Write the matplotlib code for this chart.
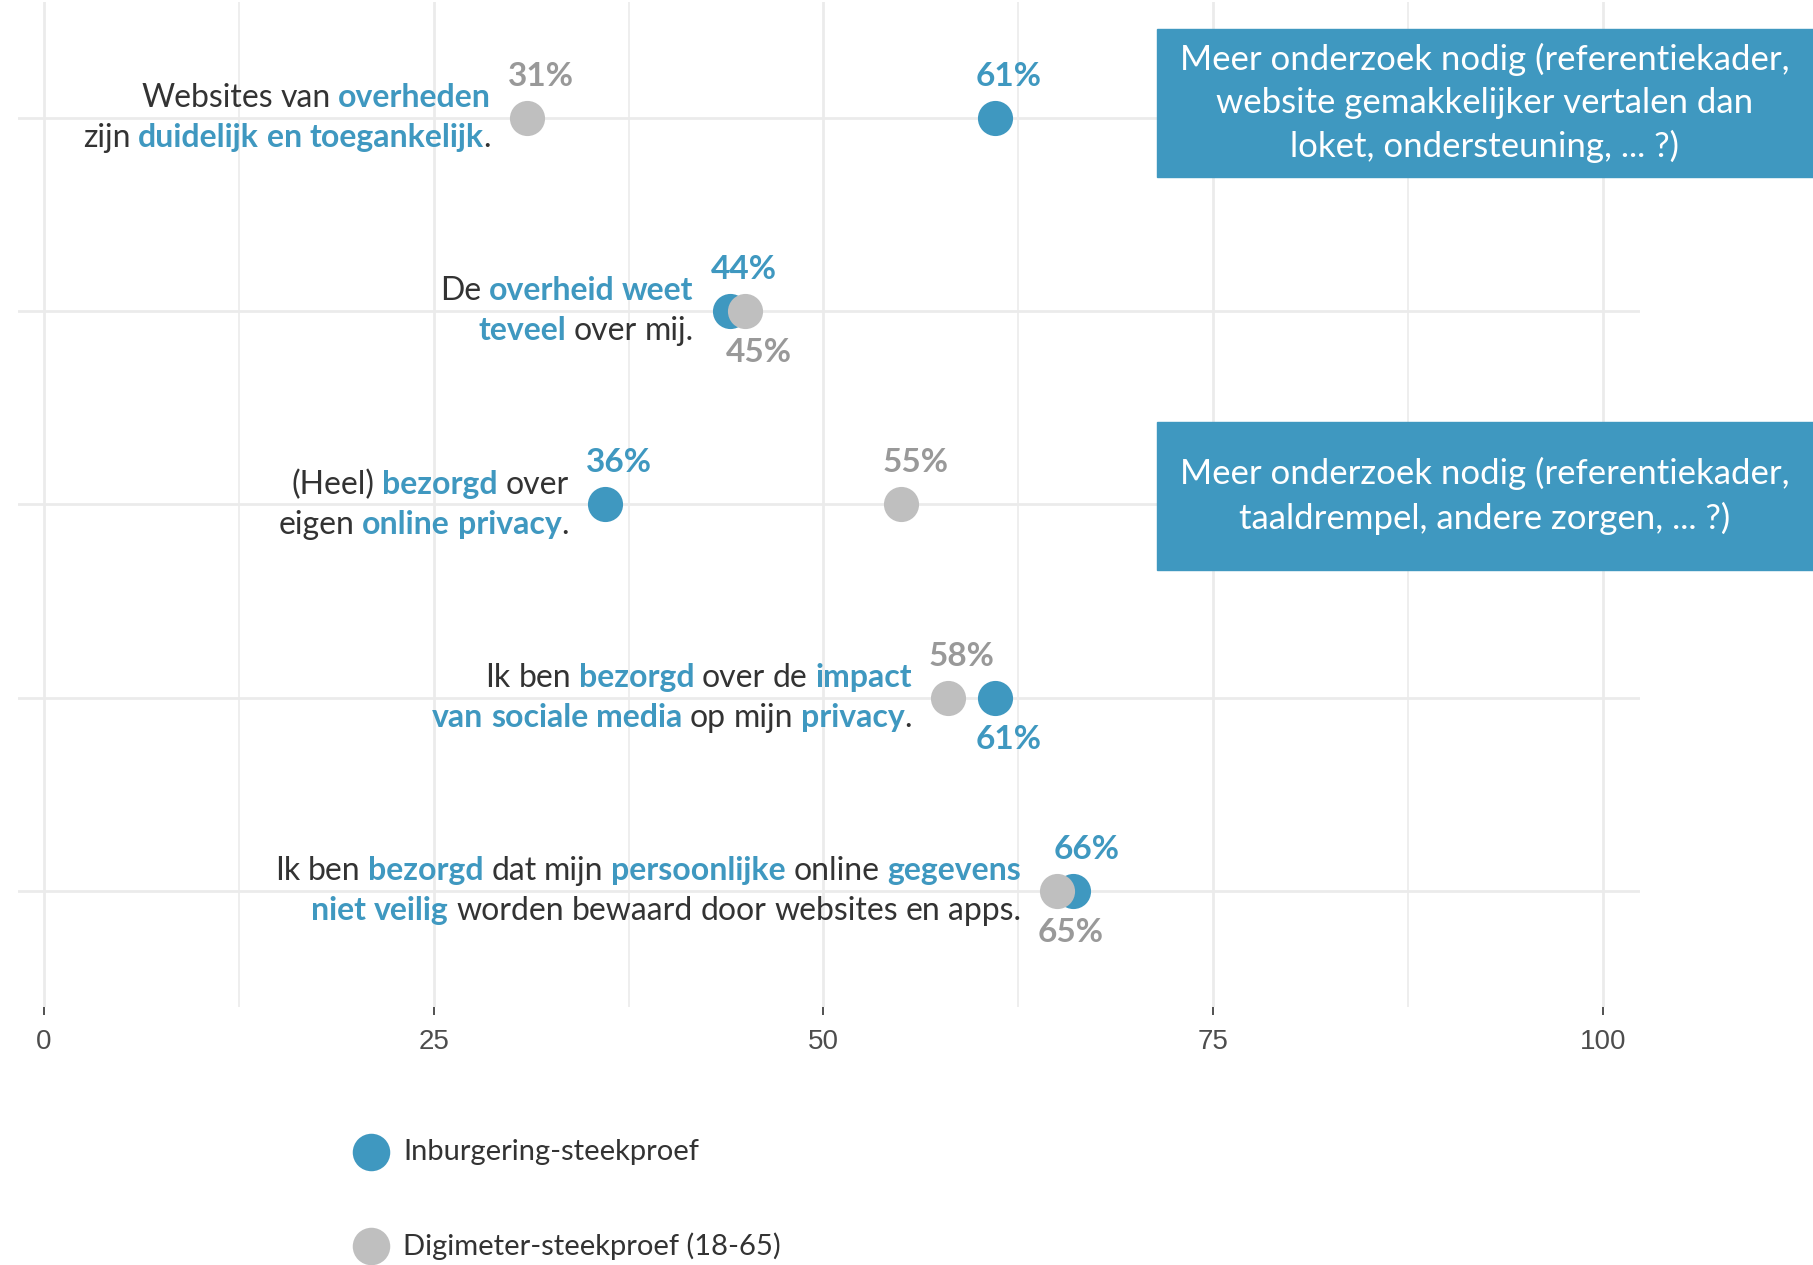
import matplotlib.pyplot as plt
from matplotlib.lines import Line2D
from matplotlib.patches import Rectangle
from matplotlib.offsetbox import TextArea, HPacker, VPacker, AnnotationBbox, DrawingArea

# data
statements = [
    ["Websites van **overheden**", "zijn **duidelijk en toegankelijk**."],
    ["De **overheid weet**", "**teveel** over mij."],
    ["(Heel) **bezorgd** over", "eigen **online privacy**."],
    ["Ik ben **bezorgd** over de **impact**", "**van sociale media** op mijn **privacy**."],
    ["Ik ben **bezorgd** dat mijn **persoonlijke** online **gegevens**",
     "**niet veilig** worden bewaard door websites en apps."],
]
inburgering = [61, 44, 36, 61, 66]
digimeter = [31, 45, 55, 58, 65]
# label above (+1) or below (-1) the point
inb_side = [1, 1, 1, -1, 1]
dig_side = [1, -1, 1, 1, -1]
series_names = ["Inburgering-steekproef", "Digimeter-steekproef (18-65)"]
notes = [
    "Meer onderzoek nodig (referentiekader,\nwebsite gemakkelijker vertalen dan\nloket, ondersteuning, ... ?)",
    "Meer onderzoek nodig (referentiekader,\ntaaldrempel, andere zorgen, ... ?)",
]

BLUE = "#3f98c0"
GREY = "#bfbfbf"
GREY_TXT = "#999999"
DARK = "#333333"
FONT = "Lato"

plt.rcParams["font.family"] = [FONT, "DejaVu Sans"]

fig = plt.figure(figsize=(18.13, 12.65), dpi=100)
ax = fig.add_axes([0.0102, 0.204, 0.8944, 0.7944])

rows = list(range(1, len(statements) + 1))

ax.scatter(inburgering, rows, s=640, color=BLUE, zorder=3, linewidths=0)
ax.scatter(digimeter, rows, s=640, color=GREY, zorder=4, linewidths=0)

for vals, sides, col in [(inburgering, inb_side, BLUE), (digimeter, dig_side, GREY_TXT)]:
    for v, r, sd in zip(vals, rows, sides):
        ax.annotate(f"{v}%", (v, r), xytext=(10, 30 * sd), textcoords="offset points",
                    ha="center", va="center", fontsize=24, fontweight="bold", color=col,
                    zorder=5)

BODY = 23


def rich_line(s):
    parts = s.split("**")
    kids = []
    for i, p in enumerate(parts):
        bold = i % 2 == 1
        words = p.split(" ")
        for j, w in enumerate(words):
            if j > 0:
                kids.append(DrawingArea(BODY * 0.24, 1))
            if w:
                kids.append(TextArea(w, textprops=dict(
                    fontsize=BODY, color=BLUE if bold else DARK,
                    fontweight="bold" if bold else "normal", family=[FONT, "DejaVu Sans"])))
    return HPacker(children=kids, align="baseline", pad=0, sep=0)


for r, lines, a, b in zip(rows, statements, inburgering, digimeter):
    box = VPacker(children=[rich_line(l) for l in lines], align="right", pad=0, sep=7)
    ab = AnnotationBbox(box, (min(a, b), r), xybox=(-26, 0), xycoords="data",
                        boxcoords="offset points", box_alignment=(1, 0.5),
                        frameon=False, pad=0)
    ax.add_artist(ab)

ax.set_xlim(-1.64, 102.4)
ax.set_ylim(5.6, 0.4)
ax.set_xticks([0, 25, 50, 75, 100])
ax.set_xticks([12.5, 37.5, 62.5, 87.5], minor=True)
ax.set_yticks(rows)
ax.set_yticklabels([])
ax.grid(which="major", color="#ebebeb", lw=2)
ax.grid(which="minor", axis="x", color="#ebebeb", lw=1.2)
ax.set_axisbelow(True)
for sp in ax.spines.values():
    sp.set_visible(False)
ax.tick_params(axis="y", length=0)
ax.tick_params(axis="x", which="major", length=6, width=1.2, color="#333333", pad=10,
               labelsize=20, labelcolor="#4d4d4d")
ax.tick_params(axis="x", which="minor", length=0)
for t in ax.get_xticklabels():
    t.set_family("Liberation Sans")

# note boxes
for ytop, txt in zip([29, 422], notes):
    h = 148
    y0 = 1 - (ytop + h) / 1265
    fig.patches.append(Rectangle((1157 / 1813, y0), (1813 - 1157) / 1813, h / 1265,
                                 transform=fig.transFigure, color=BLUE, zorder=10))
    fig.text((1157 + 1813) / 2 / 1813, y0 + h / 2 / 1265, txt, ha="center", va="center",
             color="white", fontsize=25, linespacing=1.42, zorder=11)

# legend
for yy, col, name in zip([1152, 1246], [BLUE, GREY], series_names):
    fig.add_artist(Line2D([371 / 1813], [1 - yy / 1265], transform=fig.transFigure,
                          marker="o", ms=27, color=col, mec="none", ls="none"))
    fig.text(403 / 1813, 1 - yy / 1265, name, ha="left", va="center", fontsize=21,
             color=DARK)

fig.savefig("out.png", dpi=100)
